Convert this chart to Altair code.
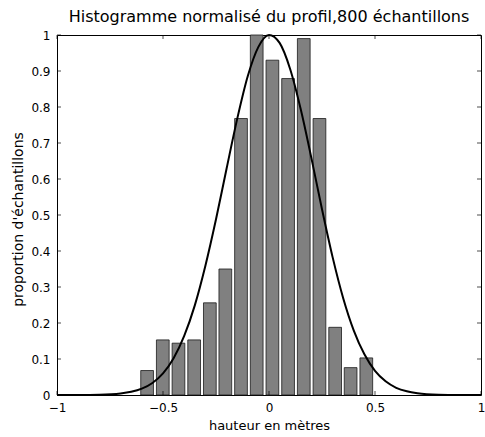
import altair as alt
import pandas as pd

# Histogram: bin centres (m) and normalised counts (max bin = 1)
bin_centres = [-0.575, -0.501, -0.427, -0.353, -0.279, -0.206, -0.132, -0.058,
               0.016, 0.090, 0.164, 0.238, 0.312, 0.385, 0.459]
proportions = [0.068, 0.153, 0.144, 0.153, 0.256, 0.350, 0.768, 1.000,
               0.930, 0.879, 0.990, 0.768, 0.188, 0.076, 0.103]
bar_width = 0.060

# Fitted Gaussian, sampled along the height axis
curve_x = [-1.0, -0.9, -0.8, -0.7, -0.65, -0.6, -0.55, -0.5, -0.45, -0.4, -0.35,
           -0.3, -0.25, -0.2, -0.15, -0.1, -0.05, 0.0, 0.05, 0.1, 0.15, 0.2,
           0.25, 0.3, 0.35, 0.4, 0.45, 0.5, 0.55, 0.6, 0.65, 0.7, 0.8, 0.9, 1.0]
curve_y = [0.0000, 0.0001, 0.0008, 0.0042, 0.0088, 0.0176, 0.0335, 0.060, 0.102,
           0.164, 0.249, 0.359, 0.488, 0.629, 0.767, 0.886, 0.967, 1.000, 0.978,
           0.905, 0.793, 0.658, 0.516, 0.383, 0.269, 0.179, 0.113, 0.067, 0.038,
           0.020, 0.0102, 0.0049, 0.0009, 0.0001, 0.0000]

x_ticks = [-1, -0.5, 0, 0.5, 1]
y_ticks = [0, 0.1, 0.2, 0.3, 0.4, 0.5, 0.6, 0.7, 0.8, 0.9, 1]

FONT = "DejaVu Sans"

bars = pd.DataFrame({
    "left": [c - bar_width / 2 for c in bin_centres],
    "right": [c + bar_width / 2 for c in bin_centres],
    "p": proportions,
})
curve = pd.DataFrame({"x": curve_x, "y": curve_y})
xt = pd.DataFrame({"v": x_ticks})
yt = pd.DataFrame({"v": y_ticks})

xscale = alt.Scale(domain=[-1, 1], nice=False, zero=False)
yscale = alt.Scale(domain=[0, 1], nice=False, zero=False)

# Same axis definitions on every layer so the merged axes stay identical
x_axis = alt.Axis(values=x_ticks, format="~g", tickSize=0, domain=False, grid=False,
                  labelPadding=7, labelOverlap=False, labelFlush=False,
                  title="hauteur en mètres", titleFontSize=13,
                  titleFont=FONT, titleFontWeight="normal", titleBaseline="alphabetic",
                  titleY=34, titleColor="black")
y_axis = alt.Axis(values=y_ticks, format="~g", tickSize=0, domain=False, grid=False,
                  labelPadding=7, labelOverlap=False, labelFlush=False,
                  title="proportion d'échantillons", titleFontSize=14,
                  titleFont=FONT, titleFontWeight="normal", titleBaseline="alphabetic",
                  titleX=-35, titleY=184, titleAngle=-90, titleColor="black")


def X(field):
    return alt.X(field, scale=xscale, axis=x_axis, title="hauteur en mètres")


def Y(field):
    return alt.Y(field, scale=yscale, axis=y_axis, title="proportion d'échantillons")


hist = alt.Chart(bars).mark_rect(fill="#808080", stroke="#1a1a1a", strokeWidth=0.8).encode(
    x=X("left:Q"),
    x2="right:Q",
    y=Y("p:Q"),
    y2=alt.datum(0),
)

gauss = alt.Chart(curve).mark_line(color="black", strokeWidth=2, interpolate="monotone").encode(
    x=X("x:Q"),
    y=Y("y:Q"),
)

# Inward-pointing ticks on all four sides of the frame
tick_len = 4
bottom_ticks = alt.Chart(xt).transform_calculate(e="0").mark_tick(
    orient="vertical", size=tick_len, thickness=1, color="black", yOffset=-tick_len / 2
).encode(x=X("v:Q"), y=Y("e:Q"))
top_ticks = alt.Chart(xt).transform_calculate(e="1").mark_tick(
    orient="vertical", size=tick_len, thickness=1, color="black", yOffset=tick_len / 2
).encode(x=X("v:Q"), y=Y("e:Q"))
left_ticks = alt.Chart(yt).transform_calculate(e="-1").mark_tick(
    orient="horizontal", size=tick_len, thickness=1, color="black", xOffset=tick_len / 2
).encode(y=Y("v:Q"), x=X("e:Q"))
right_ticks = alt.Chart(yt).transform_calculate(e="1").mark_tick(
    orient="horizontal", size=tick_len, thickness=1, color="black", xOffset=-tick_len / 2
).encode(y=Y("v:Q"), x=X("e:Q"))

chart = alt.layer(hist, gauss, bottom_ticks, top_ticks, left_ticks, right_ticks).properties(
    width=424,
    height=360,
    title=alt.TitleParams(
        "Histogramme normalisé du profil,800 échantillons",
        font=FONT, fontSize=16, fontWeight="normal", color="black",
        anchor="middle", baseline="bottom", offset=4, dy=16,
    ),
    autosize=alt.AutoSizeParams(type="none"),
    padding={"left": 57, "top": 35, "right": 4, "bottom": 42},
    background="white",
).configure_view(
    stroke="black", strokeWidth=1
).configure_axis(
    labelFont=FONT, labelFontSize=12, labelColor="black"
)

chart.save("out.html", embed_options={"renderer": "svg", "actions": False})
